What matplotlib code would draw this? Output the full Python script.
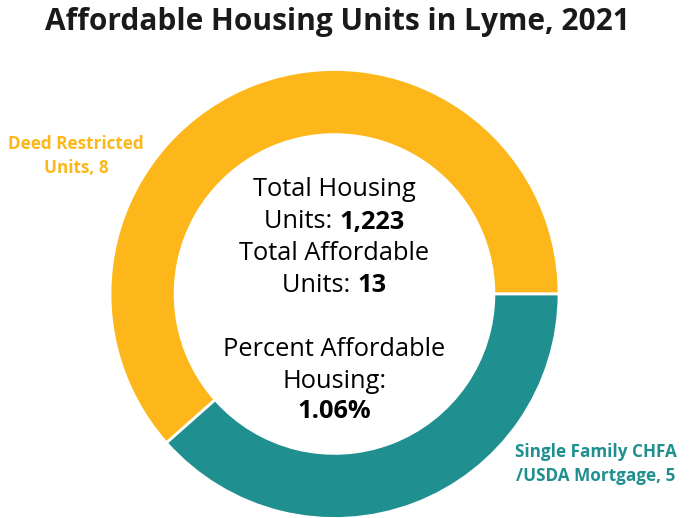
import matplotlib
matplotlib.use("Agg")
import matplotlib.pyplot as plt

# Data
categories = ["Deed Restricted\nUnits", "Single Family CHFA\n/USDA Mortgage"]
units = [8, 5]
total_housing = 1223
colors = ["#FDB71A", "#1F8F8F"]

total_affordable = sum(units)
pct = total_affordable / total_housing * 100

plt.rcParams["font.family"] = ["Open Sans", "DejaVu Sans"]

fig = plt.figure(figsize=(6.99, 5.18), dpi=100)
ax = fig.add_axes([0, 0, 1, 1])

# Donut
cx, cy, r = 334.5, 224, 224.5
ax.pie(units, colors=colors, startangle=0, counterclock=True,
       center=(cx, cy), radius=r, frame=True,
       wedgeprops=dict(width=r * 0.29, edgecolor="white", linewidth=2))
ax.set_xlim(0, 699)
ax.set_ylim(0, 518)
ax.set_aspect("equal")
ax.axis("off")

fig.text(0.483, 1 - 22 / 518, "Affordable Housing Units in Lyme, 2021",
         ha="center", va="center", fontsize=21.5, fontweight="bold", color="#1a1a1a")

# Slice labels
ax.text(76, 518 - 156, f"{categories[0]}, {units[0]}", ha="center", va="center",
        fontsize=12.3, fontweight="bold", color=colors[0], linespacing=1.45)
ax.text(596, 518 - 464, f"{categories[1]}, {units[1]}", ha="center", va="center",
        fontsize=12.3, fontweight="bold", color=colors[1], linespacing=1.45)

renderer = fig.canvas.get_renderer()
FS = 18.3


def mixed_line(y, plain, bold, size=FS):
    # plain part followed by a bold part, centered as one line
    t1 = ax.text(0, 0, plain, fontsize=size, va="center")
    t2 = ax.text(0, 0, bold, fontsize=size, va="center", fontweight="bold")
    w1 = t1.get_window_extent(renderer).width
    w2 = t2.get_window_extent(renderer).width
    left = cx - (w1 + w2) / 2
    t1.set_position((left, y))
    t2.set_position((left + w1, y))


def plain_line(y, s, size=FS, weight="normal"):
    ax.text(cx, y, s, fontsize=size, ha="center", va="center", fontweight=weight)


plain_line(518 - 190, "Total Housing")
mixed_line(518 - 222, "Units: ", f"{total_housing:,}")
plain_line(518 - 253, "Total Affordable")
mixed_line(518 - 285, "Units: ", f"{total_affordable}")
plain_line(518 - 350, "Percent Affordable")
plain_line(518 - 381, "Housing:")
plain_line(518 - 411, f"{pct:.2f}%", weight="bold")

fig.savefig("out.png", dpi=100)
